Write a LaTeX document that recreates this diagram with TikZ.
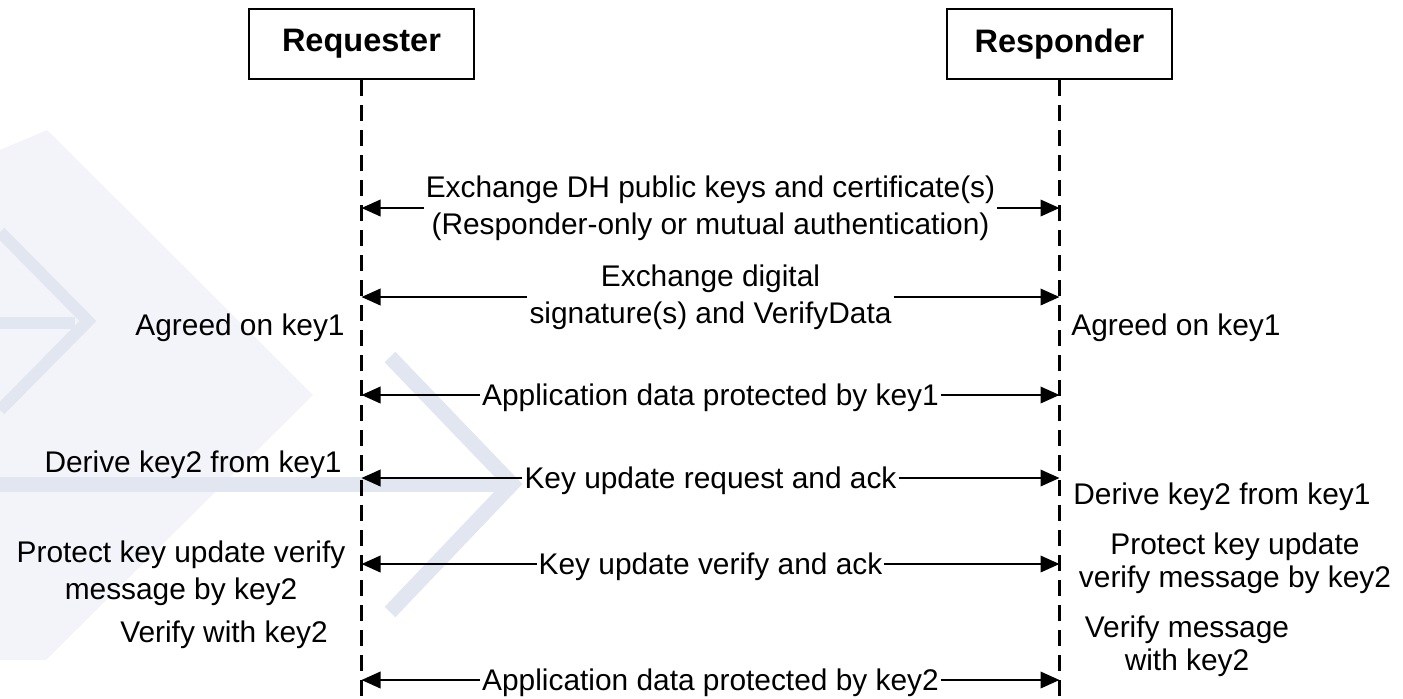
\documentclass[tikz,border=0pt]{standalone}
\usepackage{fontspec}
\setmainfont{Liberation Sans}
\usetikzlibrary{arrows.meta,positioning}
\definecolor{wmdark}{RGB}{226,230,241}
\definecolor{wmlight}{RGB}{243,244,249}
\tikzset{
    actorbox/.style={
        draw,
        line width=1.2pt,
        minimum width=4.5cm,
        minimum height=1.4cm,
        font=\fontsize{18.5}{22}\selectfont\bfseries
    },
    lifeline/.style={
        line width=1.4pt,
        dash pattern=on 0.32cm off 0.18cm
    },
    msgarrow/.style={
        line width=1.2pt,
        -{Triangle[length=0.38cm, width=0.33cm]}
    },
    msgtext/.style={inner xsep=1pt, inner ysep=0pt, align=center,
        font=\fontsize{17}{21}\selectfont},
    msgline/.style={msgtext, text height=12.2pt, text depth=0pt},
    sidetext/.style={inner sep=0pt, align=center,
        font=\fontsize{17}{21}\selectfont},
    wmband/.style={wmdark, line width=0.3cm}
}

\begin{document}
\begin{tikzpicture}[x=0.02cm, y=-0.02cm]
    \useasboundingbox (0,0) rectangle (1403,698);

    % faint watermark behind the chart
    \fill[wmlight] (0,150) -- (47,130) -- (313,395) -- (46,660) -- (0,660) -- cycle;
    \draw[wmband, line width=0.24cm] (0,232) -- (88,321) -- (0,410);
    \draw[wmband, line width=0.24cm] (0,323) -- (75,323);
    \draw[wmband] (390,357) -- (512,484) -- (390,612);
    \draw[wmband] (0,484) -- (505,484);

    % the two parties and their lifelines
    \node[actorbox] (rq) at (361.5,44) {Requester};
    \node[actorbox] (rs) at (1059.5,44) {Responder};
    \coordinate (rqend) at (361.5,698);
    \coordinate (rsend) at (1059.5,698);
    \draw[lifeline] (rq.south) -- (rqend);
    \draw[lifeline] (rs.south) -- (rsend);

    % messages
    \node[msgtext] (m1) at (710.5,208)
        {Exchange DH public keys and certificate(s)\\(Responder-only or mutual authentication)};
    \node[msgtext] (m2) at (710.5,297) {Exchange digital\\signature(s) and VerifyData};
    \node[msgline] (m3) at (710.5,395) {Application data protected by key1};
    \node[msgline] (m4) at (710.5,478) {Key update request and ack};
    \node[msgline] (m5) at (710.5,564) {Key update verify and ack};
    \node[msgline] (m6) at (710.5,680) {Application data protected by key2};

    \coordinate (rq1) at (361.5,208); \coordinate (rs1) at (1059.5,208);
    \coordinate (rq2) at (361.5,297); \coordinate (rs2) at (1059.5,297);
    \coordinate (rq3) at (361.5,395); \coordinate (rs3) at (1059.5,395);
    \coordinate (rq4) at (361.5,478); \coordinate (rs4) at (1059.5,478);
    \coordinate (rq5) at (361.5,564); \coordinate (rs5) at (1059.5,564);
    \coordinate (rq6) at (361.5,680); \coordinate (rs6) at (1059.5,680);

    \foreach \i in {1,...,6} {
        \draw[msgarrow] (m\i.west) -- (rq\i);
        \draw[msgarrow] (m\i.east) -- (rs\i);
    }

    % notes beside the lifelines
    \node[sidetext, anchor=east] (lagree) at (345,328) {Agreed on key1};
    \node[sidetext, anchor=west] (ragree) at (1071,328) {Agreed on key1};
    \node[sidetext, anchor=east] (lderive) at (342,465) {Derive key2 from key1};
    \node[sidetext, anchor=west] (rderive) at (1073,497) {Derive key2 from key1};
    \node[sidetext] (lprotect) at (181,573) {Protect key update verify\\message by key2};
    \node[sidetext] (lverify) at (224,635) {Verify with key2};
    \node[sidetext, font=\fontsize{17}{19}\selectfont] (rprotect) at (1235,563)
        {Protect key update\\verify message by key2};
    \node[sidetext, font=\fontsize{17}{19}\selectfont] (rverify) at (1187,646)
        {Verify message\\with key2};
\end{tikzpicture}
\end{document}
